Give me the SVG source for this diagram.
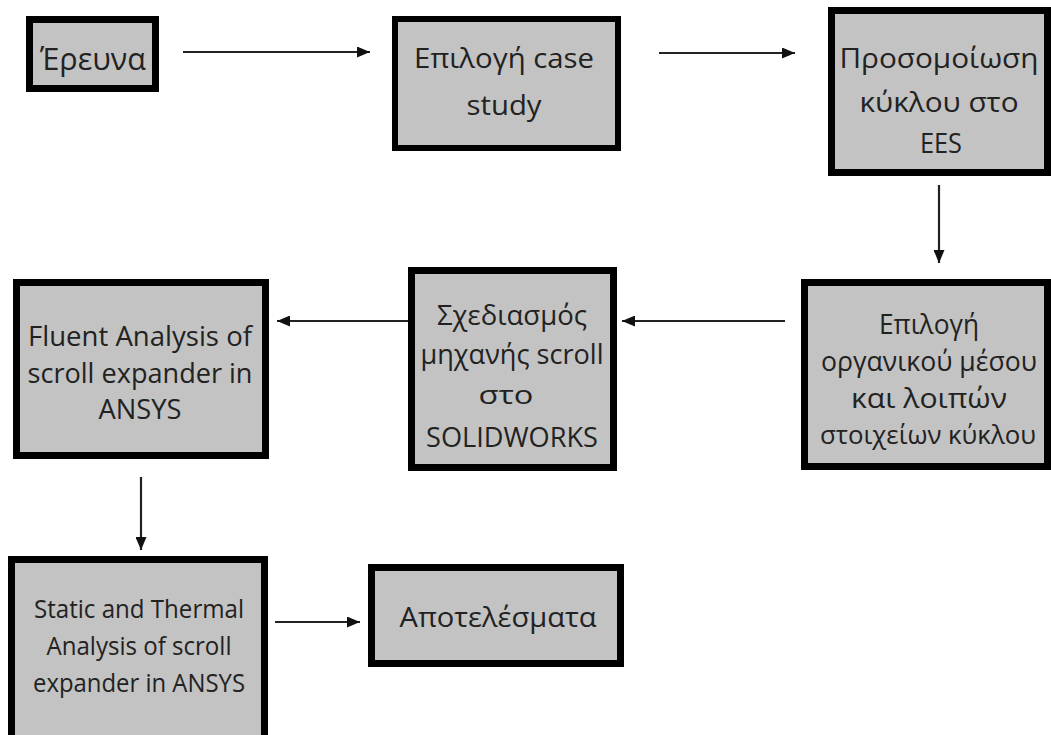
<svg xmlns="http://www.w3.org/2000/svg" width="1051" height="735" viewBox="0 0 1051 735">
<style>
.box{fill:#c3c3c3;stroke:#000;stroke-width:7}
.t{font-family:"Open Sans","Noto Sans","DejaVu Sans",sans-serif;font-size:26px;fill:#222;text-anchor:middle}
.g{font-size:28px}
.c{stroke:#222;stroke-width:2.2;fill:none;marker-end:url(#ah)}
</style>
<defs>
<marker id="ah" markerUnits="userSpaceOnUse" markerWidth="13" markerHeight="11" refX="13" refY="5.5" orient="auto">
<path d="M0,0 L13,5.5 L0,11 z" fill="#111"/>
</marker>
</defs>
<rect width="1051" height="735" fill="#fff"/>
<g id="connectors">
<line class="c" x1="183" y1="52" x2="370" y2="52"/>
<line class="c" x1="659" y1="53" x2="795" y2="53"/>
<line class="c" x1="939" y1="185" x2="939" y2="263"/>
<line class="c" x1="785" y1="321" x2="622" y2="321"/>
<line class="c" x1="408" y1="321" x2="277" y2="321"/>
<line class="c" x1="141" y1="477" x2="141" y2="550"/>
<line class="c" x1="275" y1="622" x2="360" y2="622"/>
</g>
<g id="n1">
<rect class="box" x="29.5" y="19.5" width="126" height="69"/>
<text class="t g" x="93" y="70" textLength="106" lengthAdjust="spacingAndGlyphs" style="font-size:31px">Έρευνα</text>
</g>
<g id="n2">
<rect class="box" x="395" y="19" width="223" height="129" style="stroke-width:6"/>
<text class="t g" x="504" y="68" textLength="180" lengthAdjust="spacingAndGlyphs">Επιλογή case</text>
<text class="t" x="504" y="115" textLength="75" lengthAdjust="spacingAndGlyphs" style="font-size:28px">study</text>
</g>
<g id="n3">
<rect class="box" x="831.5" y="10.5" width="216" height="162"/>
<text class="t g" x="939" y="68" textLength="199" lengthAdjust="spacingAndGlyphs">Προσομοίωση</text>
<text class="t g" x="939" y="112" textLength="159" lengthAdjust="spacingAndGlyphs">κύκλου στο</text>
<text class="t" x="941" y="153" textLength="42" lengthAdjust="spacingAndGlyphs" style="font-size:27px">EES</text>
</g>
<g id="n4">
<rect class="box" x="804.5" y="282.5" width="243" height="184"/>
<text class="t g" x="929" y="334" textLength="100" lengthAdjust="spacingAndGlyphs">Επιλογή</text>
<text class="t g" x="929" y="371" textLength="216" lengthAdjust="spacingAndGlyphs">οργανικού μέσου</text>
<text class="t g" x="929" y="408" textLength="156" lengthAdjust="spacingAndGlyphs">και λοιπών</text>
<text class="t" x="928" y="444" textLength="216" lengthAdjust="spacingAndGlyphs">στοιχείων κύκλου</text>
</g>
<g id="n5">
<rect class="box" x="411.5" y="270.5" width="202" height="197"/>
<text class="t g" x="512" y="325" textLength="150" lengthAdjust="spacingAndGlyphs">Σχεδιασμός</text>
<text class="t g" x="512" y="364" textLength="183" lengthAdjust="spacingAndGlyphs">μηχανής scroll</text>
<text class="t" x="506" y="404" textLength="55" lengthAdjust="spacingAndGlyphs">στο</text>
<text class="t" x="512" y="447" textLength="172" lengthAdjust="spacingAndGlyphs" style="font-size:27px">SOLIDWORKS</text>
</g>
<g id="n6">
<rect class="box" x="16.5" y="282.5" width="249" height="173"/>
<text class="t" x="140" y="346" textLength="224" lengthAdjust="spacingAndGlyphs" style="font-size:28px">Fluent Analysis of</text>
<text class="t" x="140" y="383" textLength="225" lengthAdjust="spacingAndGlyphs" style="font-size:28px">scroll expander in</text>
<text class="t" x="140" y="419" textLength="83" lengthAdjust="spacingAndGlyphs" style="font-size:28px">ANSYS</text>
</g>
<g id="n7">
<rect class="box" x="11.5" y="559.5" width="253" height="185"/>
<text class="t" x="139" y="618" textLength="210" lengthAdjust="spacingAndGlyphs">Static and Thermal</text>
<text class="t" x="139" y="655" textLength="185" lengthAdjust="spacingAndGlyphs">Analysis of scroll</text>
<text class="t" x="139" y="692" textLength="212" lengthAdjust="spacingAndGlyphs">expander in ANSYS</text>
</g>
<g id="n8">
<rect class="box" x="371.5" y="567.5" width="249" height="96"/>
<text class="t g" x="498" y="627" textLength="197" lengthAdjust="spacingAndGlyphs">Αποτελέσματα</text>
</g>
</svg>
